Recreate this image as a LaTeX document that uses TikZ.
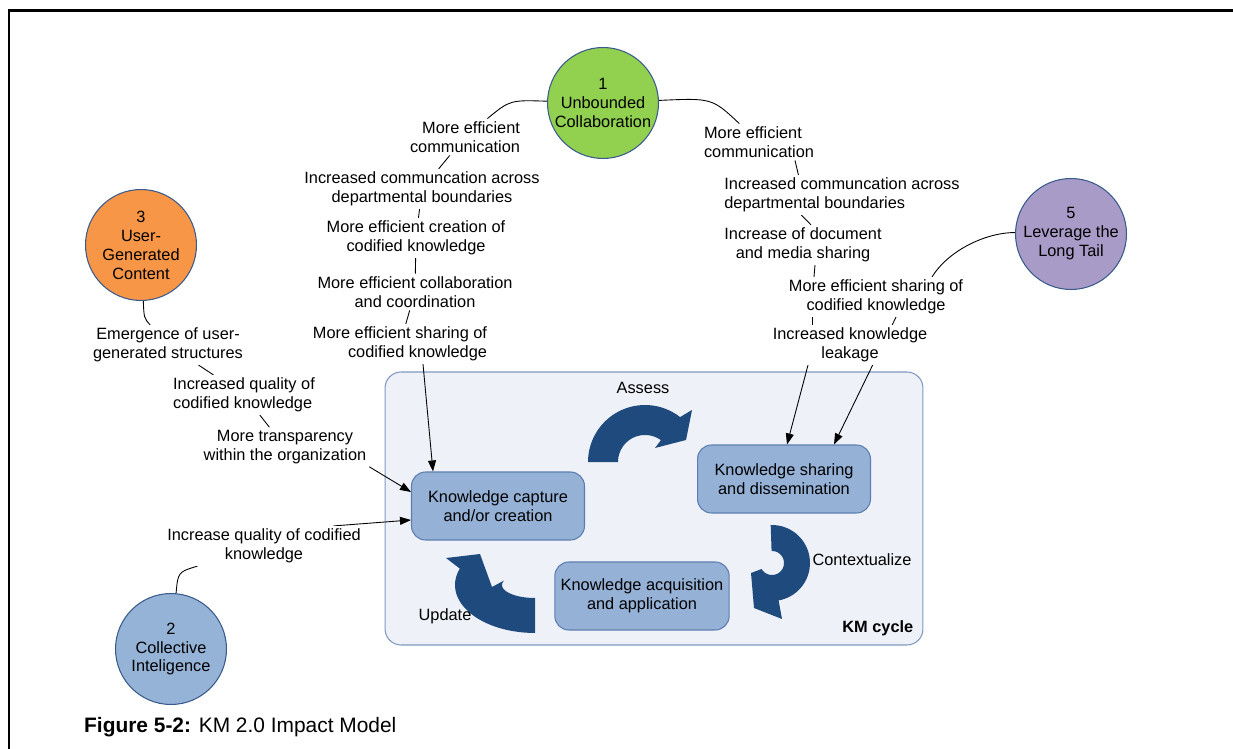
\documentclass[tikz,border=0pt]{standalone}
\usepackage{fontspec}
\setmainfont{Liberation Sans}
\usetikzlibrary{calc,positioning,arrows.meta}

\definecolor{collabgreen}{HTML}{92D050}
\definecolor{ugcorange}{HTML}{F79646}
\definecolor{tailpurple}{HTML}{A99BC8}
\definecolor{ciblue}{HTML}{95B3D7}
\definecolor{ringblue}{HTML}{3A5A8C}
\definecolor{cyclefill}{HTML}{EEF1F7}
\definecolor{cycleedge}{HTML}{7F98C0}
\definecolor{phasefill}{HTML}{95B1D6}
\definecolor{phaseedge}{HTML}{5B7DB1}
\definecolor{turnblue}{HTML}{1F4A7D}

\newcommand{\kmfont}{\fontsize{9.3pt}{10.8pt}\selectfont}

\pgfdeclarelayer{panel}
\pgfdeclarelayer{wires}
\pgfsetlayers{panel,wires,main}

\begin{document}
\begin{tikzpicture}[x=0.02cm,y=-0.02cm,
    impact/.style={circle,draw=ringblue,line width=0.6pt,fill=#1,minimum size=2.22cm,
      inner sep=0pt,align=center,font=\kmfont},
    effect/.style={align=center,font=\kmfont,inner sep=1.5pt,fill=white},
    phase/.style={draw=phaseedge,line width=0.6pt,fill=phasefill,rounded corners=0.28cm,
      minimum width=3.46cm,minimum height=1.36cm,align=center,font=\kmfont},
    link/.style={draw=black,line width=0.5pt},
    feed/.style={link,-{Triangle[length=2.2mm,width=1.6mm]}},
    turn/.style={fill=turnblue}]
  \useasboundingbox (0,0) rectangle (1233,749);
  \draw[line width=1.7pt] (9,749) -- (9,11) -- (1233,11);

  % KM cycle panel
  \begin{pgfonlayer}{panel}
    \node[draw=cycleedge,line width=0.6pt,fill=cyclefill,rounded corners=0.32cm,
      minimum width=10.76cm,minimum height=5.46cm] (cycle) at (654,508.5) {};
  \end{pgfonlayer}
  \node[font=\kmfont\bfseries,anchor=south east] (kmcycle) at ($(cycle.south east)+(-4,-3)$) {KM cycle};

  \node[phase] (capture) at (498,506) {Knowledge capture\\and/or creation};
  \node[phase] (sharing) at (784,479) {Knowledge sharing\\and dissemination};
  \node[phase] (acquire) at (642,596) {Knowledge acquisition\\and application};

  % cycle arrows
  \fill[turn] plot[domain=180:308,samples=30] ({645+57*cos(\x)},{462+57*sin(\x)})
    -- (692,410) -- (686,440) -- (655,448)
    -- plot[domain=306:180,samples=30] ({645+27*cos(\x)},{462+27*sin(\x)}) -- cycle;
  \fill[turn] plot[domain=268:440,samples=30] ({772+38*cos(\x)},{563+38*sin(\x)})
    -- (782,619) -- (754,608) -- (751,573)
    -- plot[domain=510:268,samples=30] ({772+12*cos(\x)},{563+12*sin(\x)}) -- cycle;
  \fill[turn] plot[domain=90:200,samples=30] ({535+80*cos(\x)},{585+48*sin(\x)})
    -- (446,558) -- (480,554) -- (492,587)
    -- plot[domain=200:90,samples=30] ({535+33*cos(\x)},{585+13*sin(\x)}) -- cycle;

  \node[font=\kmfont] (assess) at (643,388) {Assess};
  \node[font=\kmfont] (context) at (862,560) {Contextualize};
  \node[font=\kmfont] (update) at (445,616) {Update};

  % impact areas
  \node[impact=collabgreen] (unbound) at (603,103) {1\\Unbounded\\Collaboration};
  \node[impact=ugcorange] (usergen) at (141,245) {3\\User-\\Generated\\Content};
  \node[impact=tailpurple] (longtail) at (1071,234) {5\\Leverage the\\Long Tail};
  \node[impact=ciblue] (collective) at (171,649) {2\\Collective\\Inteligence};

  % effects
  \node[effect,align=right] (lcomm) at (465,137) {More efficient\\communication};
  \node[effect] (lcross) at (422,189) {Increased communcation across\\departmental boundaries};
  \node[effect] (lcreate) at (416,238) {More efficient creation of\\codified knowledge};
  \node[effect] (lcollab) at (415,292) {More efficient collaboration\\and coordination};
  \node[effect,align=right] (lshare) at (400,344) {More efficient sharing of\\codified knowledge};

  \node[effect,align=left] (rcomm) at (759,142) {More efficient\\communication};
  \node[effect,align=left] (rcross) at (842,195) {Increased communcation across\\departmental boundaries};
  \node[effect] (rdocs) at (803,245) {Increase of document\\and media sharing};
  \node[effect] (rshare) at (876,297) {More efficient sharing of\\codified knowledge};
  \node[effect] (leak) at (850,345) {Increased knowledge\\leakage};

  \node[effect] (emerge) at (168,345) {Emergence of user-\\generated structures};
  \node[effect,align=left] (quality) at (244,395) {Increased quality of\\codified knowledge};
  \node[effect] (transp) at (285,447) {More transparency\\within the organization};
  \node[effect] (iq) at (264,546) {Increase quality of codified\\knowledge};

  \node[anchor=west,font=\fontsize{11.9pt}{14pt}\selectfont] (caption) at (78,727)
    {\textbf{Figure 5-2:} KM 2.0 Impact Model};

  % connectors
  \begin{pgfonlayer}{wires}
    \draw[link] (unbound) .. controls (510,100) .. (lcomm);
    \draw[link] (lcomm) -- (lcross);
    \draw[link] (lcross) -- (lcreate);
    \draw[link] (lcreate) -- (lcollab);
    \draw[link] (lcollab) -- (lshare);
    \draw[feed] ($(lshare.south)+(23,0)$) -- ($(capture.north west)+(22,0)$);

    \draw[link] (unbound) .. controls (712,98) .. (rcomm);
    \draw[link] ($(rcomm.south)+(36,0)$) -- ($(rcross.north west)+(77,0)$);
    \draw[link] ($(rcross.south west)+(80,0)$) -- ($(rdocs.north)+(8,0)$);
    \draw[link] ($(rdocs.south)+(12,0)$) -- ($(rshare.north west)+(28,0)$);
    \draw[link] ($(rshare.south)+(-64,0)$) -- ($(leak.north)+(-38,0)$);
    \draw[feed] ($(leak.south)+(-42,0)$) -- ($(sharing.north)+(3,0)$);
    \draw[feed] ($(rshare.south)+(20,0)$) -- ($(sharing.north)+(50,0)$);
    \draw[link] (longtail) .. controls (990,232) and (950,248) .. ($(rshare.north east)+(-34,0)$);

    \draw[link] (usergen) .. controls (144,318) .. (emerge);
    \draw[link] (emerge) -- (quality);
    \draw[link] (quality) -- (transp);
    \draw[feed] (transp.south east) -- ($(capture.west)+(0,-14)$);
    \draw[link] (collective) .. controls (178,572) .. (iq);
    \draw[feed] ($(iq.north east)+(-30,0)$) -- ($(capture.west)+(0,14)$);
  \end{pgfonlayer}
\end{tikzpicture}
\end{document}
